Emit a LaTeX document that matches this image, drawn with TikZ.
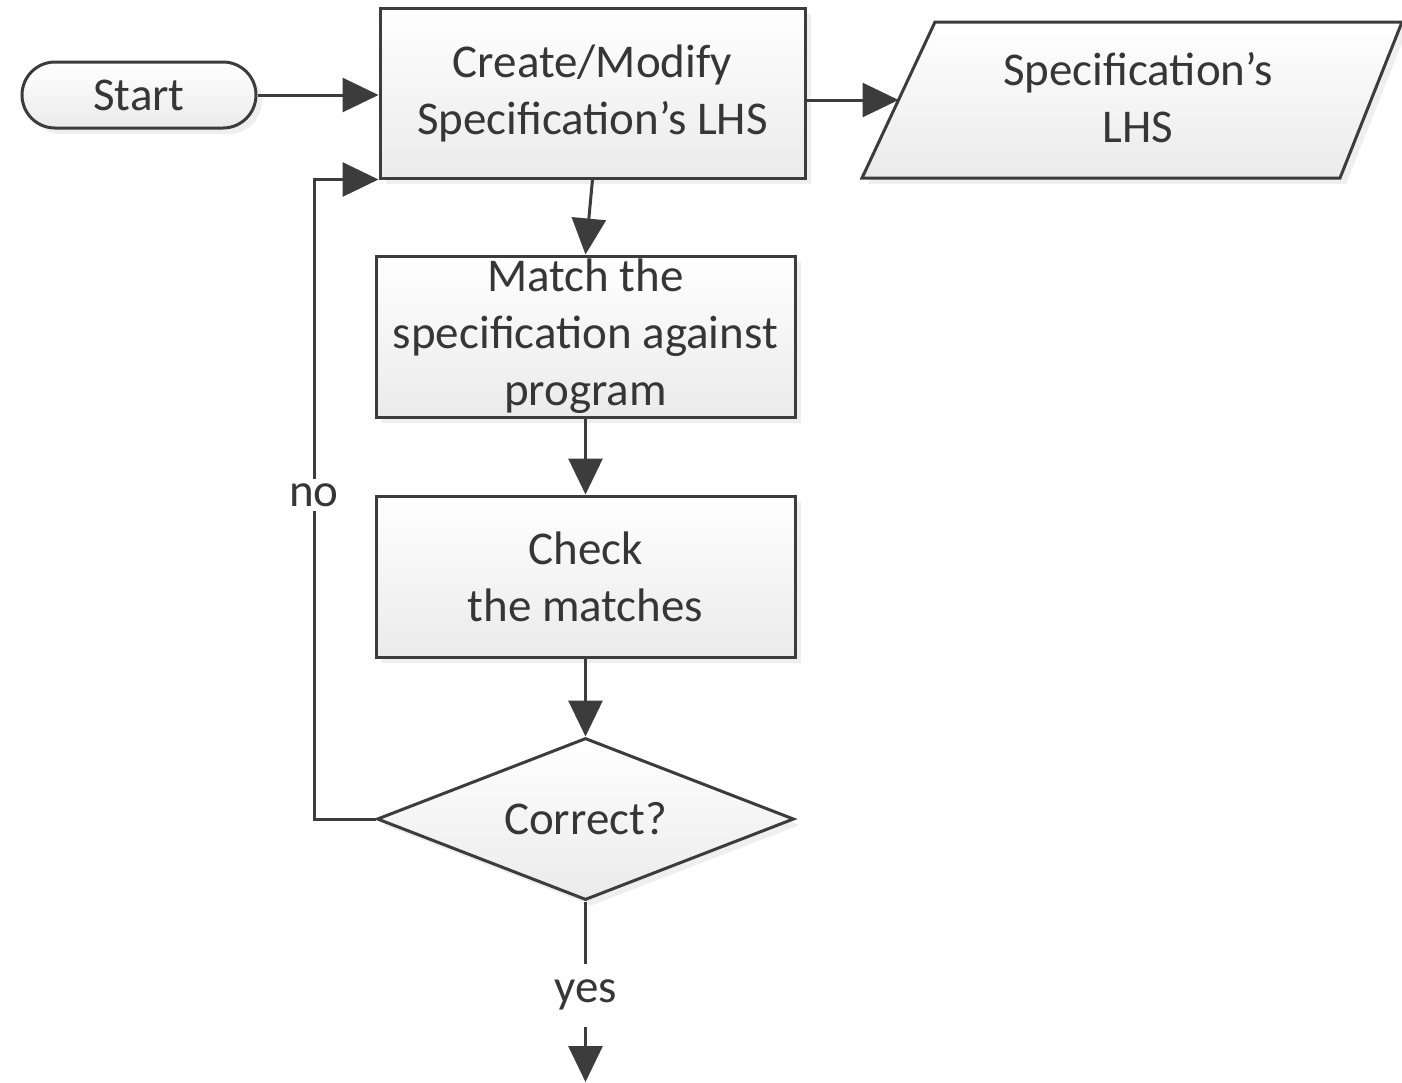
\documentclass[tikz,border=0pt]{standalone}
\usepackage{fontspec}
\setmainfont{Carlito}
\usetikzlibrary{shapes.geometric,shapes.misc,arrows.meta,shadows,calc}
\definecolor{ln}{HTML}{3C3C3C}
\definecolor{tx}{HTML}{363636}
\begin{document}
\begin{tikzpicture}[x=0.5pt,y=-0.5pt,
  font=\fontsize{23.5}{28.5}\selectfont,
  shapefill/.style={draw=ln, line width=1.5pt, top color=white, bottom color=black!8,
    drop shadow={opacity=0.12, shadow xshift=3pt, shadow yshift=-3pt}},
  shapebase/.style={shapefill, align=center, inner sep=0pt, text=tx},
  procbox/.style={shapebase, rectangle, minimum width=#1, minimum height=80.5pt},
  startbox/.style={shapebase, rounded rectangle, minimum width=117pt, minimum height=33pt},
  decision/.style={shapebase, diamond, shape aspect=2.6, minimum width=208.5pt, minimum height=81pt},
  plain/.style={align=center, inner sep=0pt, text=tx},
  arr/.style={draw=ln, line width=1.5pt, -{Triangle[length=18pt,width=17pt]}},
  lbl/.style={fill=white, inner sep=2pt, text=tx}]
\fill[white] (0,0) rectangle (1402,1082);
\useasboundingbox (0,0) rectangle (1402,1082);

% data (parallelogram) shape
\coordinate (pbl) at (862,178);
\coordinate (ptl) at (935,22);
\coordinate (ptr) at (1402,22);
\coordinate (pbr) at (1340,178);
\path[shapefill] (pbl) -- (ptl) -- (ptr) -- (pbr) -- cycle;
\coordinate (paraL) at ($(pbl)!0.5!(ptl)$);
\node[plain] (para) at (1138,98) {Specification’s\\LHS};

\node[startbox] (start) at (139,95) {Start};
\node[procbox=212.5pt, minimum height=85pt] (create) at (592.5,93) {Create/Modify\\Specification’s LHS};
\node[procbox=209.5pt] (match) at (585.5,336.5) {Match the\\specification against\\program};
\node[procbox=209.5pt] (check) at (585.5,576.5) {Check\\the matches};
\node[decision] (dia) at (585.5,819) {Correct?};

\coordinate (loopx) at (314,0);
\coordinate (yesend) at (585.5,1082);

\draw[arr] (start.east) -- (create.west |- start.east);
\draw[arr] (create.east |- paraL) -- (paraL);
\draw[arr] (create.south) -- (match.north);
\draw[arr] (match.south) -- (check.north);
\draw[arr] (check.south) -- (dia.north);
\draw[arr] (dia.west) -- (dia.west -| loopx) -- (loopx |- create.south west) -- (create.south west);
\node[lbl] (nolbl) at (314,495) {no};
\draw[arr] (dia.south) -- node[lbl, pos=0.52, inner ysep=8pt] (yeslbl) {yes} (yesend);
\end{tikzpicture}
\end{document}
